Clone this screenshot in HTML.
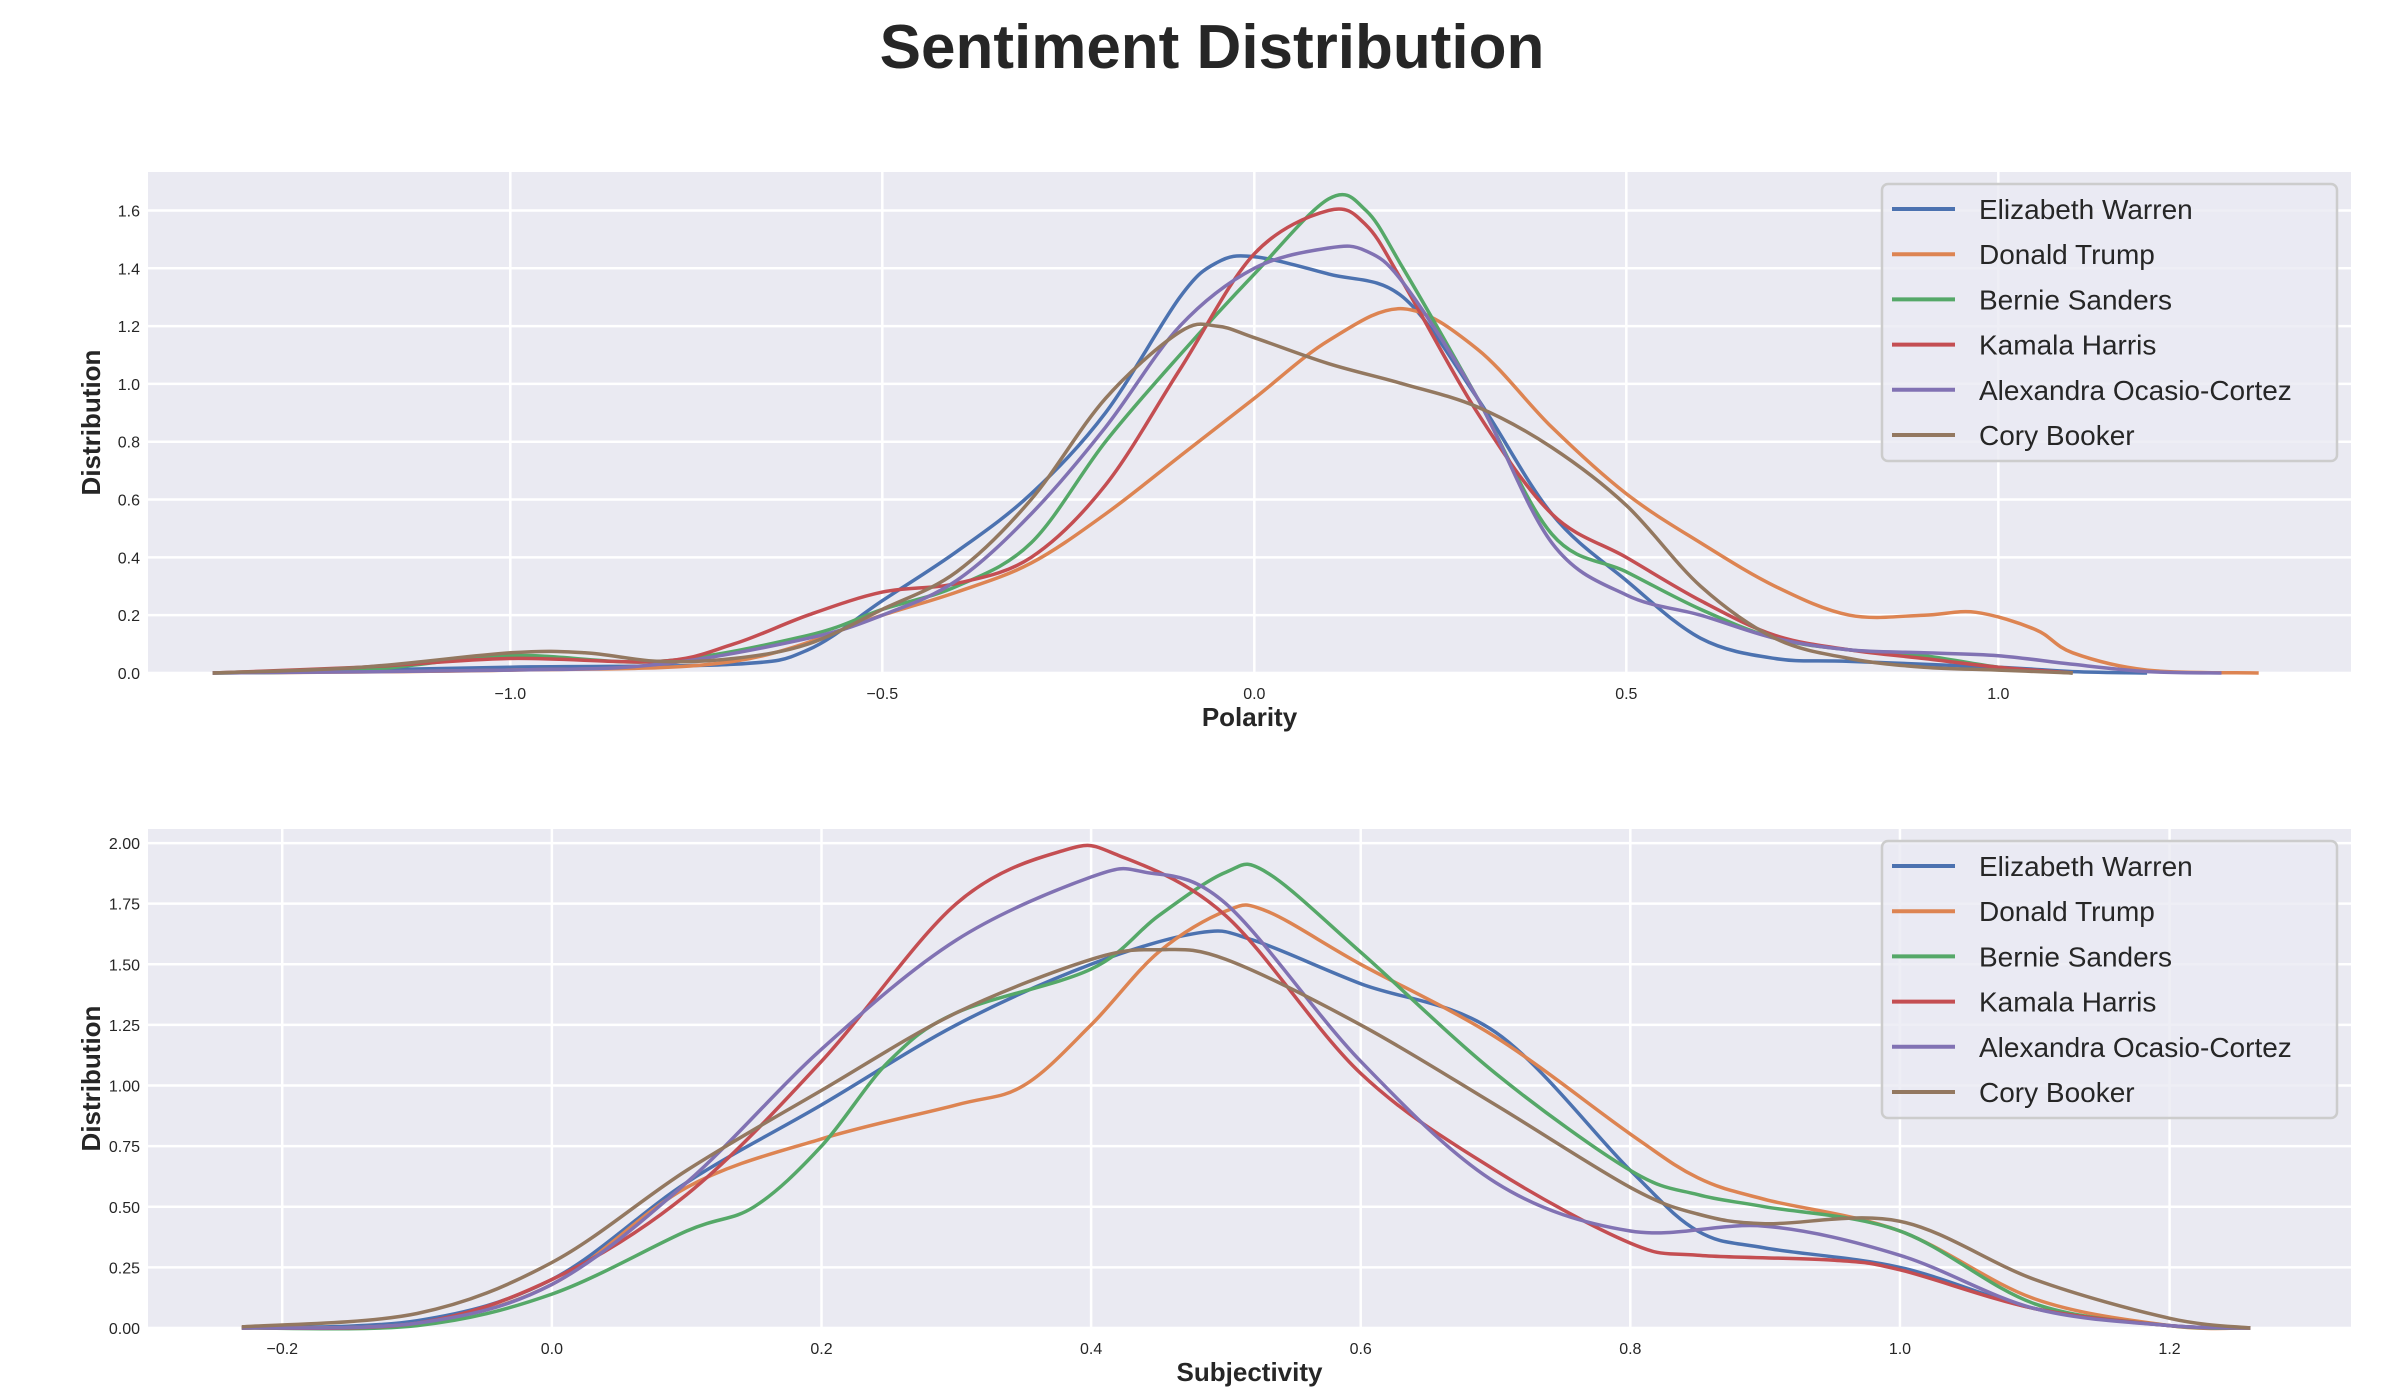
<!DOCTYPE html>
<html><head><meta charset="utf-8"><style>
html,body{margin:0;padding:0;background:#fff;}
svg{display:block;font-family:"Liberation Sans",sans-serif;}
</style></head><body>
<svg id="chart" width="2400" height="1400" viewBox="0 0 2400 1400" xmlns="http://www.w3.org/2000/svg">
<text x="1212" y="68" text-anchor="middle" font-size="62" font-weight="bold" fill="#262626">Sentiment Distribution</text>
</svg>
<script>
const names = ["Elizabeth Warren","Donald Trump","Bernie Sanders","Kamala Harris","Alexandra Ocasio-Cortez","Cory Booker"];
const colors = ["#4c72b0","#dd8452","#55a868","#c44e52","#8172b3","#937860"];
const polTicksX = [-1.0,-0.5,0.0,0.5,1.0];
const polTicksY = [0.0,0.2,0.4,0.6,0.8,1.0,1.2,1.4,1.6];
const subTicksX = [-0.2,0.0,0.2,0.4,0.6,0.8,1.0,1.2];
const subTicksY = [0.00,0.25,0.50,0.75,1.00,1.25,1.50,1.75,2.00];

const polWarrenX = [-1.4,-1.0,-0.7,-0.6,-0.5,-0.4,-0.3,-0.2,-0.1,-0.05,0,0.1,0.2,0.3,0.4,0.5,0.6,0.7,0.8,1.0,1.1,1.2];
const polWarrenY = [0,0.02,0.03,0.08,0.25,0.42,0.62,0.9,1.3,1.42,1.44,1.38,1.3,0.95,0.55,0.32,0.12,0.05,0.04,0.02,0.005,0];
const polTrumpX = [-1.4,-1.0,-0.7,-0.5,-0.4,-0.3,-0.2,-0.1,0,0.1,0.2,0.3,0.4,0.5,0.6,0.7,0.8,0.9,0.97,1.05,1.1,1.2,1.35];
const polTrumpY = [0,0.01,0.04,0.2,0.28,0.38,0.55,0.75,0.95,1.15,1.26,1.12,0.85,0.62,0.45,0.3,0.2,0.2,0.21,0.15,0.07,0.01,0];
const polSandersX = [-1.4,-1.2,-1.0,-0.8,-0.6,-0.5,-0.4,-0.3,-0.2,-0.1,0,0.1,0.15,0.2,0.3,0.4,0.5,0.6,0.7,0.8,0.9,1.0,1.1];
const polSandersY = [0,0.01,0.06,0.04,0.13,0.22,0.3,0.45,0.8,1.1,1.38,1.64,1.6,1.4,0.95,0.48,0.35,0.22,0.12,0.08,0.06,0.02,0];
const polHarrisX = [-1.4,-1.2,-1.0,-0.8,-0.7,-0.6,-0.5,-0.4,-0.3,-0.2,-0.1,0,0.1,0.15,0.2,0.3,0.4,0.5,0.6,0.7,0.8,0.9,1.0,1.1];
const polHarrisY = [0,0.02,0.05,0.04,0.1,0.2,0.28,0.31,0.4,0.65,1.05,1.45,1.6,1.55,1.35,0.9,0.55,0.4,0.25,0.13,0.08,0.05,0.02,0];
const polAocX = [-1.4,-1.0,-0.8,-0.6,-0.5,-0.4,-0.3,-0.2,-0.1,0,0.1,0.15,0.2,0.3,0.4,0.5,0.6,0.7,0.8,0.9,1.0,1.1,1.2,1.3];
const polAocY = [0,0.01,0.03,0.12,0.2,0.32,0.55,0.85,1.2,1.4,1.47,1.46,1.35,0.95,0.45,0.27,0.2,0.12,0.08,0.07,0.06,0.03,0.005,0];
const polBookerX = [-1.4,-1.2,-1.0,-0.9,-0.8,-0.7,-0.6,-0.5,-0.4,-0.3,-0.2,-0.1,-0.05,0,0.1,0.2,0.3,0.4,0.5,0.6,0.7,0.8,0.9,1.0,1.1];
const polBookerY = [0,0.02,0.07,0.07,0.04,0.05,0.1,0.22,0.35,0.6,0.95,1.18,1.2,1.16,1.07,1.0,0.92,0.78,0.58,0.3,0.12,0.05,0.02,0.01,0];

const subWarrenX = [-0.23,-0.1,0,0.1,0.2,0.3,0.4,0.48,0.52,0.6,0.7,0.8,0.85,0.9,1.0,1.1,1.2,1.26];
const subWarrenY = [0,0.03,0.2,0.6,0.92,1.25,1.5,1.63,1.6,1.42,1.22,0.65,0.4,0.33,0.25,0.08,0.01,0];
const subTrumpX = [-0.23,-0.1,0,0.1,0.2,0.3,0.35,0.4,0.45,0.5,0.53,0.6,0.7,0.8,0.85,0.9,1.0,1.1,1.2,1.26];
const subTrumpY = [0,0.02,0.18,0.58,0.78,0.92,1.0,1.25,1.55,1.72,1.72,1.5,1.2,0.8,0.62,0.53,0.4,0.12,0.01,0];
const subSandersX = [-0.23,-0.1,0,0.1,0.15,0.2,0.25,0.3,0.4,0.45,0.5,0.53,0.6,0.7,0.8,0.85,0.9,1.0,1.1,1.2,1.26];
const subSandersY = [0,0.01,0.14,0.4,0.5,0.75,1.1,1.3,1.48,1.7,1.88,1.88,1.55,1.05,0.65,0.55,0.5,0.4,0.1,0.01,0];
const subHarrisX = [-0.23,-0.1,0,0.1,0.2,0.3,0.38,0.42,0.5,0.6,0.7,0.8,0.85,0.95,1.0,1.1,1.2,1.26];
const subHarrisY = [0,0.02,0.2,0.55,1.1,1.75,1.97,1.95,1.7,1.05,0.65,0.35,0.3,0.28,0.24,0.08,0.01,0];
const subAocX = [-0.23,-0.1,0,0.1,0.2,0.3,0.4,0.44,0.5,0.6,0.7,0.8,0.9,1.0,1.1,1.2,1.26];
const subAocY = [0,0.02,0.18,0.6,1.15,1.6,1.86,1.88,1.75,1.1,0.6,0.4,0.42,0.3,0.08,0.01,0];
const subBookerX = [-0.23,-0.1,0,0.1,0.2,0.3,0.4,0.45,0.5,0.6,0.7,0.8,0.85,0.9,1.0,1.1,1.2,1.26];
const subBookerY = [0.005,0.06,0.27,0.65,0.98,1.3,1.52,1.56,1.52,1.25,0.92,0.58,0.47,0.43,0.44,0.2,0.04,0];

const NS="http://www.w3.org/2000/svg";
const svg=document.getElementById('chart');
function mk(tag,attrs,parent){const e=document.createElementNS(NS,tag);for(const k in attrs)e.setAttribute(k,attrs[k]);(parent||svg).appendChild(e);return e;}

function smoothPath(pts){
  let d='M'+pts[0][0].toFixed(1)+','+pts[0][1].toFixed(1);
  for(let i=0;i<pts.length-1;i++){
    const p0=pts[i-1]||pts[i],p1=pts[i],p2=pts[i+1],p3=pts[i+2]||p2;
    const c1x=p1[0]+(p2[0]-p0[0])/6,c1y=p1[1]+(p2[1]-p0[1])/6;
    const c2x=p2[0]-(p3[0]-p1[0])/6,c2y=p2[1]-(p3[1]-p1[1])/6;
    d+=' C'+c1x.toFixed(1)+','+c1y.toFixed(1)+' '+c2x.toFixed(1)+','+c2y.toFixed(1)+' '+p2[0].toFixed(1)+','+p2[1].toFixed(1);
  }
  return d;
}

function panel(cfg){
  const L=148,R=2351,T=cfg.top,B=cfg.bottom;
  const sx=v=>L+(v-cfg.xmin)/(cfg.xmax-cfg.xmin)*(R-L);
  const sy=v=>B-(v-cfg.ymin)/(cfg.ymax-cfg.ymin)*(B-T);
  const g=mk('g',{});
  
  
  const bg=mk('rect',{x:L,y:T,width:R-L,height:B-T,fill:'#eaeaf2'},g);
  
  
  cfg.ticksY.forEach(t=>{
    const y=sy(t);
    const ln=mk('line',{x1:L,x2:R,y1:y,y2:y,stroke:'#fff','stroke-width':2.5},g);
    
    
    const tx=mk('text',{x:L-8,y:y+6,'text-anchor':'end','font-size':16,fill:'#262626'},g);
    
    
    tx.textContent=t.toFixed(cfg.yDec);
  });
  cfg.ticksX.forEach(t=>{
    const x=sx(t);
    const ln=mk('line',{x1:x,x2:x,y1:T,y2:B,stroke:'#fff','stroke-width':2.5},g);
    
    
    const tx=mk('text',{x:x,y:B+26,'text-anchor':'middle','font-size':16,fill:'#262626'},g);
    
    
    tx.textContent=(t<0?'\u2212':'')+Math.abs(t).toFixed(1);
  });
  cfg.series.forEach((s,i)=>{
    const pts=s[0].map((xv,j)=>[sx(xv),sy(s[1][j])]);
    const p=mk('path',{d:smoothPath(pts),fill:'none',stroke:colors[i],'stroke-width':3.5,'stroke-linejoin':'round'},g);
    
    
  });
  const xl=mk('text',{x:(L+R)/2,y:cfg.xlabY,'text-anchor':'middle','font-size':26,'font-weight':'bold',fill:'#262626'},g);
  
  
  xl.textContent=cfg.xlabel;
  const cy=(T+B)/2;
  const yl=mk('text',{x:100,y:cy,'text-anchor':'middle','font-size':26,'font-weight':'bold',fill:'#262626',transform:'rotate(-90 100 '+cy+')'},g);
  
  
  yl.textContent='Distribution';
  const lg=mk('g',{},g);
  
  
  const ly=cfg.legTop;
  const box=mk('rect',{x:1882,y:ly,width:455,height:277,rx:6,fill:'#eaeaf2','fill-opacity':0.8,stroke:'#cccccc','stroke-width':2.5},lg);
  
  
  names.forEach((n,i)=>{
    const yy=ly+25+i*45.2;
    const e=mk('g',{},lg);
    
    
    mk('line',{x1:1892,x2:1955,y1:yy,y2:yy,stroke:colors[i],'stroke-width':4},e);
    const t=mk('text',{x:1979,y:yy+10,'font-size':28,fill:'#262626'},e);
    t.textContent=n;
  });
}

panel({name:'polarity-panel',top:172,bottom:673,xmin:-1.487,xmax:1.474,ymin:0,ymax:1.733,
  ticksX:polTicksX,ticksY:polTicksY,yDec:1,xlabel:'Polarity',xlabY:726,legTop:184,
  series:[[polWarrenX,polWarrenY],[polTrumpX,polTrumpY],[polSandersX,polSandersY],[polHarrisX,polHarrisY],[polAocX,polAocY],[polBookerX,polBookerY]]});
panel({name:'subjectivity-panel',top:829,bottom:1328,xmin:-0.2996,xmax:1.3346,ymin:0,ymax:2.058,
  ticksX:subTicksX,ticksY:subTicksY,yDec:2,xlabel:'Subjectivity',xlabY:1381,legTop:841,
  series:[[subWarrenX,subWarrenY],[subTrumpX,subTrumpY],[subSandersX,subSandersY],[subHarrisX,subHarrisY],[subAocX,subAocY],[subBookerX,subBookerY]]});
</script>
</body></html>
